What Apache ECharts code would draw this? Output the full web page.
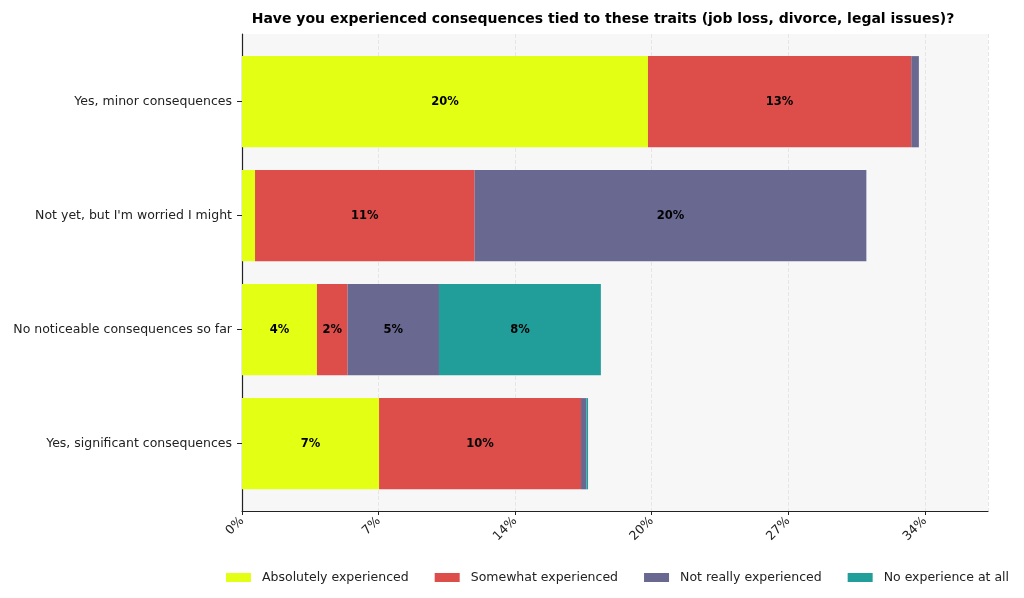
<!DOCTYPE html>
<html>
<head>
<meta charset="utf-8">
<script src="https://cdn.jsdelivr.net/npm/echarts@6/dist/echarts.min.js"></script>
<style>
  html, body { margin: 0; padding: 0; background: #fff; }
  #main { width: 1024px; height: 598px; }
</style>
</head>
<body>
<div id="main"></div>
<script>
// categories, top to bottom
var categories = ['Yes, minor consequences', "Not yet, but I'm worried I might", 'No noticeable consequences so far', 'Yes, significant consequences'];
var seriesNames = ['Absolutely experienced', 'Somewhat experienced', 'Not really experienced', 'No experience at all'];
var absolutely = [20.26, 0.65, 3.74, 6.84];
var somewhat = [13.14, 10.96, 1.53, 10.08];
var notReally = [0.38, 19.55, 4.56, 0.27];
var noExperience = [0, 0, 8.08, 0.08];
var colors = ['#e2ff14', '#dd4d4a', '#686890', '#219e9a'];
var tickStep = 6.815;
var axisMax = 37.23;

var font = 'DejaVu Sans';
var chart = echarts.init(document.getElementById('main'));

var allData = [absolutely, somewhat, notReally, noExperience];
var series = [];
for (var i = 0; i < seriesNames.length; i++) {
    series.push({
        name: seriesNames[i],
        type: 'bar',
        stack: 'total',
        xAxisIndex: 1,
        yAxisIndex: 1,
        barCategoryGap: '20%',
        data: allData[i],
        itemStyle: { color: colors[i] },
        label: {
            show: true,
            position: 'inside',
            color: '#000',
            fontWeight: 'bold',
            fontSize: 11.5,
            fontFamily: font,
            formatter: function(p) {
                return p.value >= 1.5 ? Math.round(p.value) + '%' : '';
            }
        }
    });
}

var option = {
    animation: false,
    title: {
        text: 'Have you experienced consequences tied to these traits (job loss, divorce, legal issues)?',
        left: 598,
        top: 7,
        textAlign: 'center',
        textStyle: { fontFamily: font, fontWeight: 'bold', fontSize: 14, color: '#000' }
    },
    legend: {
        data: seriesNames,
        left: 221,
        top: 566,
        icon: 'rect',
        itemWidth: 25,
        itemHeight: 9,
        itemGap: 26,
        textStyle: { fontFamily: font, fontSize: 12.5, color: '#222', padding: [0, 0, 0, 6] }
    },
    grid: [
        { left: 242, right: 36, top: 34, bottom: 87, show: true, backgroundColor: '#f7f7f7', borderWidth: 0 },
        { left: 242, right: 36, top: 44.7, height: 456 }
    ],
    xAxis: [
        {
            type: 'value',
            gridIndex: 0,
            min: 0,
            max: axisMax,
            interval: tickStep,
            axisLine: { show: true, lineStyle: { color: '#222', width: 1.2 } },
            axisTick: { show: true, length: 4, lineStyle: { color: '#222' } },
            splitLine: { show: true, lineStyle: { color: '#e6e6e6', type: 'dashed' } },
            axisLabel: {
                rotate: 45,
                fontFamily: font,
                fontSize: 12.5,
                color: '#222',
                margin: 8,
                showMaxLabel: false,
                formatter: function(v) { return Math.round(v) + '%'; }
            }
        },
        { type: 'value', gridIndex: 1, min: 0, max: axisMax, show: false }
    ],
    yAxis: [
        {
            type: 'value',
            gridIndex: 0,
            axisLine: { show: true, lineStyle: { color: '#222', width: 1.2 } },
            axisTick: { show: false },
            axisLabel: { show: false },
            splitLine: { show: false }
        },
        {
            type: 'category',
            gridIndex: 1,
            inverse: true,
            data: categories,
            axisLine: { show: false },
            axisTick: { show: true, alignWithLabel: true, length: 5, lineStyle: { color: '#222' } },
            axisLabel: { fontFamily: font, fontSize: 12.5, color: '#222', margin: 10 }
        }
    ],
    series: series
};
chart.setOption(option);
</script>
</body>
</html>
